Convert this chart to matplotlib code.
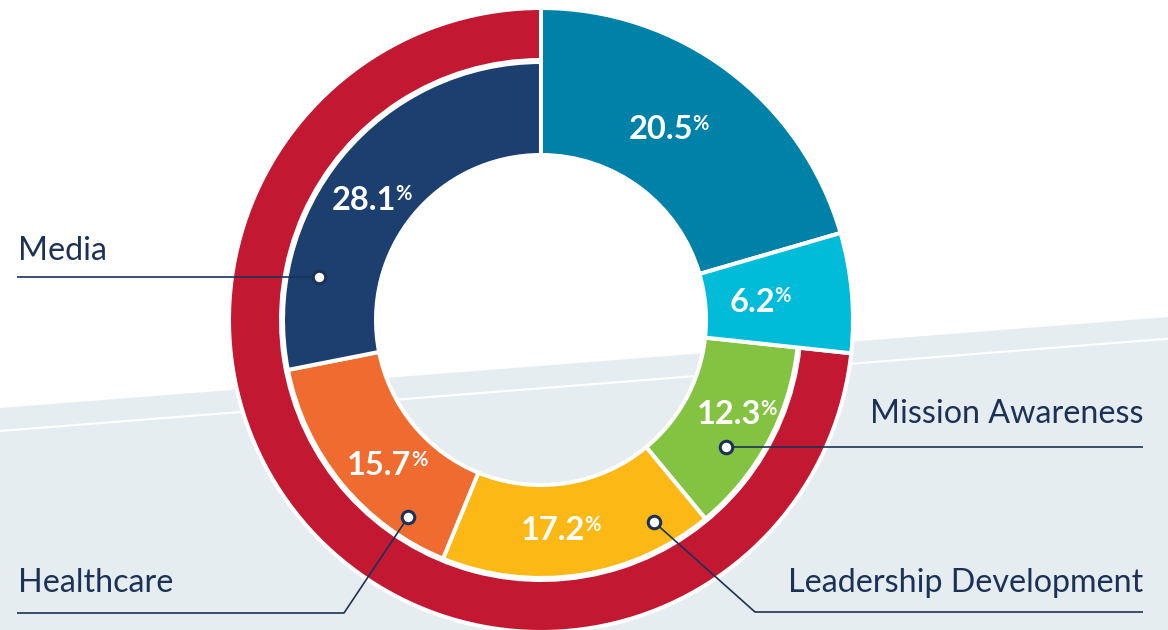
import matplotlib
matplotlib.use("Agg")
import matplotlib.pyplot as plt
import numpy as np

# ---------------- data ----------------
segment_values = [20.5, 6.2, 12.3, 17.2, 15.7, 28.1]
segment_names = ["", "", "Mission Awareness", "Leadership Development", "Healthcare", "Media"]
segment_colors = ["#0081a7", "#00bcd9", "#84c342", "#fcb815", "#f06b2f", "#1c3f6f"]
segment_extended = [True, True, False, False, False, False]
ring_color = "#c21832"

# ---------------- layout / style ----------------
W, H = 1168, 630
CX, CY = 541, 310
R_OUT = 312
R_RING_IN = 260
R_SEG_OUT = 258
R_HOLE = 165
EDGE_LW = 2.9
NAVY = "#1b3256"
BG_GREY = "#e6edf1"
FONT = ["Lato", "DejaVu Sans"]
label_angle_nudge = [3, 0, 3, -3, 4, 3.6]
label_radius = [231, 221, 218, 210, 210, 207]

# callouts: name -> (dot angle deg, dot radius, elbow_x, line_y, end_x, text_x, text_baseline_y, ha)
callouts = {
    "Media": (169, 226, None, None, 17, 18, 370, "left"),
    "Healthcare": (-124, 238, 344, 17, 17, 18, 38, "left"),
    "Mission Awareness": (-34.5, 224, None, None, 1143, 1143, 207, "right"),
    "Leadership Development": (-60.8, 231, 755, 18, 1143, 1143, 38, "right"),
}

fig = plt.figure(figsize=(W / 100, H / 100), dpi=100)
ax = fig.add_axes([0, 0, 1, 1])
fig.patch.set_facecolor("white")

# background band
xs = np.array([0, W])
ax.fill([0, W, W, 0], [222, 313, 0, 0], color=BG_GREY, zorder=0, lw=0)
ax.plot(xs, 199 + 0.079 * xs, color="white", lw=1.5, zorder=0.5)

# red outer ring (complement of extended segments)
ring_vals = [sum(v for v, e in zip(segment_values, segment_extended) if not e),
             sum(v for v, e in zip(segment_values, segment_extended) if e)]
ring_w, _ = ax.pie(ring_vals, startangle=90, counterclock=True, radius=R_OUT,
                   center=(CX, CY), colors=[ring_color, "none"], frame=True,
                   wedgeprops=dict(width=R_OUT - R_RING_IN, edgecolor="white", linewidth=EDGE_LW))
ring_w[1].set_visible(False)

# inner (regular) segments
inner_w, _ = ax.pie(segment_values, startangle=90, counterclock=False, radius=R_SEG_OUT,
                    center=(CX, CY), colors=segment_colors, frame=True,
                    wedgeprops=dict(width=R_SEG_OUT - R_HOLE, edgecolor="white", linewidth=EDGE_LW))
for w, e in zip(inner_w, segment_extended):
    if e:
        w.set_visible(False)

# extended segments
outer_w, _ = ax.pie(segment_values, startangle=90, counterclock=False, radius=R_OUT,
                    center=(CX, CY), colors=segment_colors, frame=True,
                    wedgeprops=dict(width=R_OUT - R_HOLE, edgecolor="white", linewidth=EDGE_LW))
for w, e in zip(outer_w, segment_extended):
    if not e:
        w.set_visible(False)

# percentage labels
cum = np.concatenate([[0], np.cumsum(segment_values)])
total = cum[-1]
for i, v in enumerate(segment_values):
    a1 = 90 - cum[i] / total * 360
    a2 = 90 - cum[i + 1] / total * 360
    mid = np.deg2rad((a1 + a2) / 2 + label_angle_nudge[i])
    r = label_radius[i]
    x = CX + r * np.cos(mid)
    y = CY + r * np.sin(mid)
    t = ax.text(x - 9, y - 11, f"{v:.1f}", ha="center", va="baseline",
                fontsize=23.5, fontweight="bold", color="white", family=FONT, zorder=5)
    ax.annotate("%", xy=(1, 1), xycoords=t, xytext=(-0.5, 1.0), textcoords="offset points",
                ha="left", va="top", fontsize=14.5, fontweight="bold", color="white",
                family=FONT, zorder=5)

# callouts
for name, (ang, rad, ex, ly, endx, tx, ty, ha) in callouts.items():
    dx = CX + rad * np.cos(np.deg2rad(ang))
    dy = CY + rad * np.sin(np.deg2rad(ang))
    if ex is None:
        px, py = [dx, endx], [dy, dy]
    else:
        px, py = [dx, ex, endx], [dy, ly, ly]
    ax.plot(px, py, color=NAVY, lw=1.2, zorder=6, solid_capstyle="butt")
    ax.plot([dx], [dy], marker="o", ms=9, mfc="white", mec=NAVY, mew=2.2, zorder=7)
    ax.text(tx, ty, name, ha=ha, va="baseline", fontsize=23.2, color=NAVY,
            family=FONT, zorder=6)

ax.set_xlim(0, W)
ax.set_ylim(0, H)
ax.set_aspect("auto")
ax.axis("off")

fig.savefig("out.png", dpi=100, facecolor="white")
